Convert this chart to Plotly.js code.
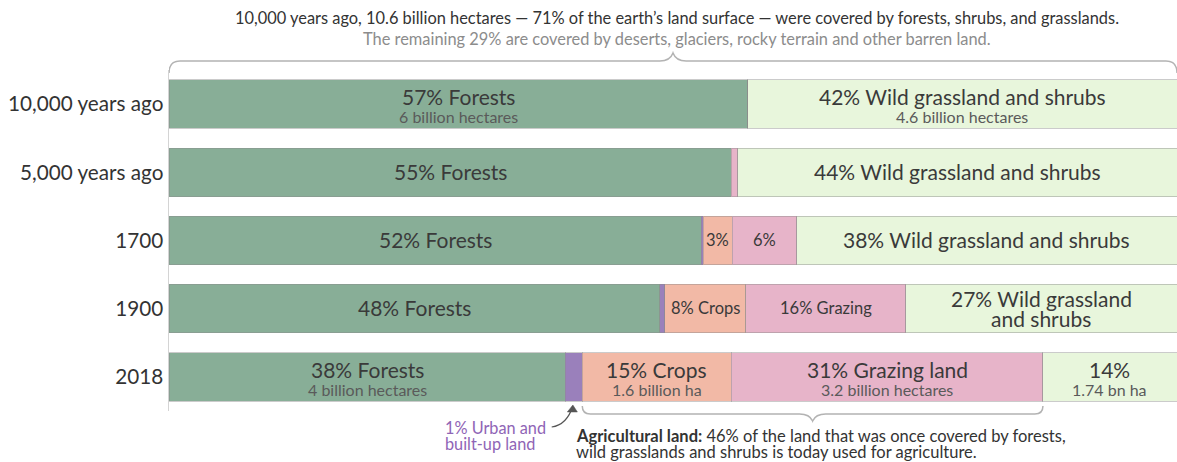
<!DOCTYPE html>
<html>
<head>
<meta charset="utf-8">
<script src="https://cdn.plot.ly/plotly-3.0.1.min.js"></script>
<style>
  html, body { margin: 0; padding: 0; background: #ffffff; }
  #chart { width: 1177px; height: 462px; }
</style>
</head>
<body>
<div id="chart"></div>
<script>
// ---------- DATA (shares of habitable land, %) ----------
const categories = ['10,000 years ago', '5,000 years ago', '1700', '1900', '2018'];
const forests = [57.4, 55.8, 52.8, 48.7, 39.3];
const urban   = [0, 0, 0.2, 0.5, 1.7];
const crops   = [0, 0, 2.9, 8.0, 14.8];
const grazing = [0, 0.6, 6.4, 15.9, 30.9];
const wild    = [42.6, 43.6, 37.7, 26.9, 13.3];

// ---------- LABELS ----------
const forestLabels  = ['57% Forests', '55% Forests', '52% Forests', '48% Forests', '38% Forests'];
const forestSub     = ['6 billion hectares', '', '', '', '4 billion hectares'];
const urbanLabels   = ['', '', '', '', ''];
const urbanSub      = ['', '', '', '', ''];
const cropLabels    = ['', '', '3%', '8% Crops', '15% Crops'];
const cropSub       = ['', '', '', '', '1.6 billion ha'];
const grazingLabels = ['', '', '6%', '16% Grazing', '31% Grazing land'];
const grazingSub    = ['', '', '', '', '3.2 billion hectares'];
const wildLabels    = ['42% Wild grassland and shrubs', '44% Wild grassland and shrubs',
                       '38% Wild grassland and shrubs', '27% Wild grassland<br>and shrubs', '14%'];
const wildSub       = ['4.6 billion hectares', '', '', '', '1.74 bn ha'];

const topLine1 = '10,000 years ago, 10.6 billion hectares — 71% of the earth’s land surface — were covered by forests, shrubs, and grasslands.';
const topLine2 = 'The remaining 29% are covered by deserts, glaciers, rocky terrain and other barren land.';
const urbanNote = ['1% Urban and', 'built-up land'];
const agriNote = ['<b>Agricultural land:</b> 46% of the land that was once covered by forests,',
                  'wild grasslands and shrubs is today used for agriculture.'];

// ---------- STYLE ----------
const FONT = 'Lato, "Open Sans", sans-serif';
const W = 1177, H = 462;
const M = { l: 169, r: 0, t: 70, b: 51 };
const plotH = H - M.t - M.b;
const plotW = W - M.l - M.r;
const px = x => (x - M.l) / plotW;          // pixel x -> paper x
const py = y => (H - M.b - y) / plotH;      // pixel y -> paper y

const series = [
  { name: 'Forests', vals: forests, color: '#88ae97', labels: forestLabels, sub: forestSub },
  { name: 'Urban and built-up land', vals: urban, color: '#9a80bb', labels: urbanLabels, sub: urbanSub },
  { name: 'Crops', vals: crops, color: '#f2b9a6', labels: cropLabels, sub: cropSub },
  { name: 'Grazing', vals: grazing, color: '#e7b4c9', labels: grazingLabels, sub: grazingSub },
  { name: 'Wild grassland and shrubs', vals: wild, color: '#e8f6dc', labels: wildLabels, sub: wildSub }
];

const traces = series.map(s => ({
  type: 'bar',
  orientation: 'h',
  name: s.name,
  y: categories,
  x: s.vals,
  marker: { color: s.color, line: { color: 'rgba(140,140,140,0.45)', width: 1 } },
  hoverinfo: 'skip'
}));

// ---------- bar labels from data ----------
const annotations = [];
const smallRows = ['1700', '1900'];
series.forEach((s, si) => {
  s.vals.forEach((v, i) => {
    let start = 0;
    for (let k = 0; k < si; k++) start += series[k].vals[i];
    const mid = start + v / 2;
    const lbl = s.labels[i];
    const sub = s.sub[i];
    if (!lbl) return;
    const small = smallRows.includes(categories[i]) && (s.name === 'Crops' || s.name === 'Grazing');
    const size = small ? 16.5 : 21;
    const lines = lbl.split('<br>');
    let shifts;
    if (sub) shifts = [7.5];
    else if (lines.length === 2) shifts = [10.5, -10];
    else shifts = [1];
    lines.forEach((ln, li) => {
      annotations.push({
        xref: 'x', yref: 'y', x: mid, y: i, yshift: shifts[li],
        text: ln, showarrow: false, xanchor: 'center', yanchor: 'middle',
        font: { family: FONT, size: size, color: '#3a3a3a' }
      });
    });
    if (sub) {
      annotations.push({
        xref: 'x', yref: 'y', x: mid, y: i, yshift: -12.5,
        text: sub, showarrow: false, xanchor: 'center', yanchor: 'middle',
        font: { family: FONT, size: 16, color: '#5a5a5a' }
      });
    }
  });
});

// top notes
annotations.push({ xref: 'paper', yref: 'paper', x: px(677), y: py(18), text: topLine1, showarrow: false,
  xanchor: 'center', yanchor: 'middle', font: { family: FONT, size: 16.4, color: '#333' } });
annotations.push({ xref: 'paper', yref: 'paper', x: px(677), y: py(38), text: topLine2, showarrow: false,
  xanchor: 'center', yanchor: 'middle', font: { family: FONT, size: 16.4, color: '#8c8c8c' } });
// urban note
urbanNote.forEach((t, k) => annotations.push({ xref: 'paper', yref: 'paper', x: px(443), y: py(427 + 16 * k), text: t,
  showarrow: false, xanchor: 'left', yanchor: 'middle', font: { family: FONT, size: 16.3, color: '#8f65b6' } }));
// agricultural note
agriNote.forEach((t, k) => annotations.push({ xref: 'paper', yref: 'paper', x: px(574), y: py(436 + 16.5 * k), text: t,
  showarrow: false, xanchor: 'left', yanchor: 'middle', font: { family: FONT, size: 16.5, color: '#333' } }));

// ---------- brackets & arrow ----------
const last = categories.length - 1;
const total0 = series.reduce((a, s) => a + s.vals[0], 0);
const xs = v => v.toFixed(4);
function topBracket() {
  const x0 = 0, x1 = total0, xm = total0 / 2;
  const r = 1.1, w = 1.3;
  const yl = py(61), ye = py(73), yp = py(53);
  return `M ${xs(x0)},${xs(ye)} Q ${xs(x0)},${xs(yl)} ${xs(x0 + r)},${xs(yl)} L ${xs(xm - w)},${xs(yl)} ` +
         `Q ${xs(xm - 0.3)},${xs(yl)} ${xs(xm)},${xs(yp)} Q ${xs(xm + 0.3)},${xs(yl)} ${xs(xm + w)},${xs(yl)} ` +
         `L ${xs(x1 - r)},${xs(yl)} Q ${xs(x1)},${xs(yl)} ${xs(x1)},${xs(ye)}`;
}
function bottomBracket() {
  const x0 = forests[last] + urban[last];
  const x1 = x0 + crops[last] + grazing[last];
  const xm = (x0 + x1) / 2;
  const r = 0.8, w = 1.3;
  const yl = py(414), ye = py(406), yp = py(421);
  return `M ${xs(x0)},${xs(ye)} Q ${xs(x0)},${xs(yl)} ${xs(x0 + r)},${xs(yl)} L ${xs(xm - w)},${xs(yl)} ` +
         `Q ${xs(xm - 0.3)},${xs(yl)} ${xs(xm)},${xs(yp)} Q ${xs(xm + 0.3)},${xs(yl)} ${xs(xm + w)},${xs(yl)} ` +
         `L ${xs(x1 - r)},${xs(yl)} Q ${xs(x1)},${xs(yl)} ${xs(x1)},${xs(ye)}`;
}
const headX = forests[last] + urban[last] * 0.45;
const tailX = headX - 2.1;
function arrowPath() {
  return `M ${xs(tailX)},${xs(py(427))} Q ${xs(headX - 0.6)},${xs(py(425))} ${xs(headX)},${xs(py(406))}`;
}
function arrowHead() {
  const hx = headX, hy = py(405);
  return `M ${xs(hx - 0.55)},${xs(py(412))} L ${xs(hx)},${xs(hy)} L ${xs(hx + 0.45)},${xs(py(412))} Z`;
}

const shapes = [
  { type: 'path', xref: 'x', yref: 'paper', path: topBracket(), line: { color: '#b3b3b3', width: 1.5 } },
  { type: 'path', xref: 'x', yref: 'paper', path: bottomBracket(), line: { color: '#b3b3b3', width: 1.5 } },
  { type: 'path', xref: 'x', yref: 'paper', path: arrowPath(), line: { color: '#555', width: 1.2 } },
  { type: 'path', xref: 'x', yref: 'paper', path: arrowHead(), line: { color: '#555', width: 0.5 }, fillcolor: '#555' }
];

const layout = {
  width: W, height: H,
  margin: M,
  barmode: 'stack',
  bargap: 0.29,
  showlegend: false,
  paper_bgcolor: '#ffffff',
  plot_bgcolor: '#ffffff',
  font: { family: FONT, color: '#333' },
  xaxis: { range: [0, 100], autorange: false, showgrid: false, zeroline: false, showticklabels: false, showline: false, fixedrange: true },
  yaxis: {
    type: 'category',
    categoryorder: 'array', categoryarray: categories,
    range: [categories.length - 0.5, -0.5], autorange: false,
    showgrid: false, zeroline: false, showline: true, linecolor: '#d4d4d4', linewidth: 1.5,
    ticks: '', ticklabelstandoff: 0,
    tickfont: { family: FONT, size: 20.7, color: '#333' }, fixedrange: true
  },
  annotations: annotations,
  shapes: shapes,
  hovermode: false
};

Plotly.newPlot('chart', traces, layout, { displayModeBar: false, staticPlot: true });
</script>
</body>
</html>
